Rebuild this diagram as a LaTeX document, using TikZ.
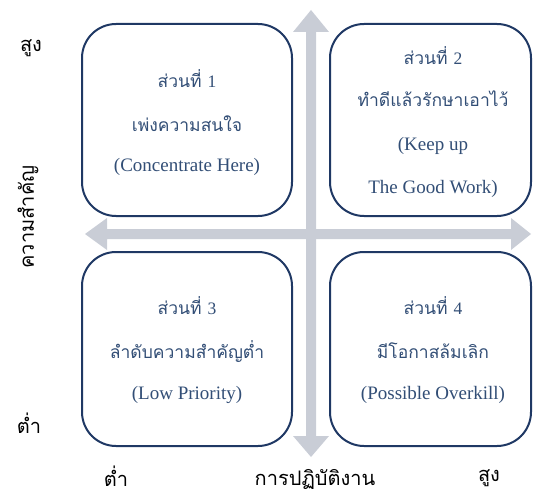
\documentclass[tikz,border=0pt]{standalone}
\usepackage{fontspec}
\setmainfont{Liberation Serif}
\newfontfamily\thai[Script=Thai]{Loma}
\definecolor{arrowgray}{RGB}{201,205,214}
\definecolor{boxblue}{RGB}{31,56,100}
\definecolor{txtblue}{RGB}{50,78,118}
\tikzset{
  quad/.style={draw=boxblue, line width=2pt, fill=white, rounded corners=34pt, inner sep=0pt},
  qtext/.style={text=txtblue, font=\fontsize{19}{21}\selectfont, inner sep=0pt, anchor=center},
  ttext/.style={text=txtblue, font=\thai\fontsize{17.5}{20}\selectfont, inner sep=0pt, anchor=center},
  axlabel/.style={text=black, font=\thai\fontsize{20}{22}\selectfont, inner sep=0pt, anchor=center}
}
\begin{document}
\begin{tikzpicture}[x=1pt,y=-1pt]
\useasboundingbox (0,0) rectangle (533,495);
% arrows
\fill[arrowgray] (311,10) -- (329,32) -- (316,32) -- (316,436) -- (329,436) -- (311,457)
  -- (293,436) -- (306,436) -- (306,32) -- (293,32) -- cycle;
\fill[arrowgray] (85,234) -- (107,218) -- (107,229) -- (511,229) -- (511,218) -- (531,234)
  -- (511,250) -- (511,239) -- (107,239) -- (107,250) -- cycle;
% boxes
\draw[quad] (82,24) rectangle (292,216);
\draw[quad] (330,24) rectangle (531,216);
\draw[quad] (82,252) rectangle (292,446);
\draw[quad] (330,252) rectangle (531,446);
% box 1
\node[ttext] (a1) at (187,79) {ส่วนที่ {\rmfamily 1}};
\node[ttext] (a2) at (187,124) {เพ่งความสนใจ};
\node[qtext] (a3) at (187,167) {(Concentrate Here)};
% box 2
\node[ttext] (b1) at (433,56) {ส่วนที่ {\rmfamily 2}};
\node[ttext] (b2) at (433,99) {ทำดีแล้วรักษาเอาไว้};
\node[qtext] (b3) at (433,146) {(Keep up};
\node[qtext] (b4) at (433,189) {The Good Work)};
% box 3
\node[ttext] (c1) at (187,306) {ส่วนที่ {\rmfamily 3}};
\node[ttext] (c2) at (187,351) {ลำดับความสำคัญต่ำ};
\node[qtext] (c3) at (187,395) {(Low Priority)};
% box 4
\node[ttext] (d1) at (433,306) {ส่วนที่ {\rmfamily 4}};
\node[ttext] (d2) at (433,351) {มีโอกาสล้มเลิก};
\node[qtext] (d3) at (433,395) {(Possible Overkill)};
% axis labels
\node[axlabel] (hi1) at (31,48) {สูง};
\node[axlabel] (lo1) at (29,423) {ต่ำ};
\node[axlabel, rotate=90] (imp) at (28,217) {ความสำคัญ};
\node[axlabel] (lo2) at (116,476) {ต่ำ};
\node[axlabel] (perf) at (315,479) {การปฏิบัติงาน};
\node[axlabel] (hi2) at (489,478) {สูง};
\end{tikzpicture}
\end{document}
